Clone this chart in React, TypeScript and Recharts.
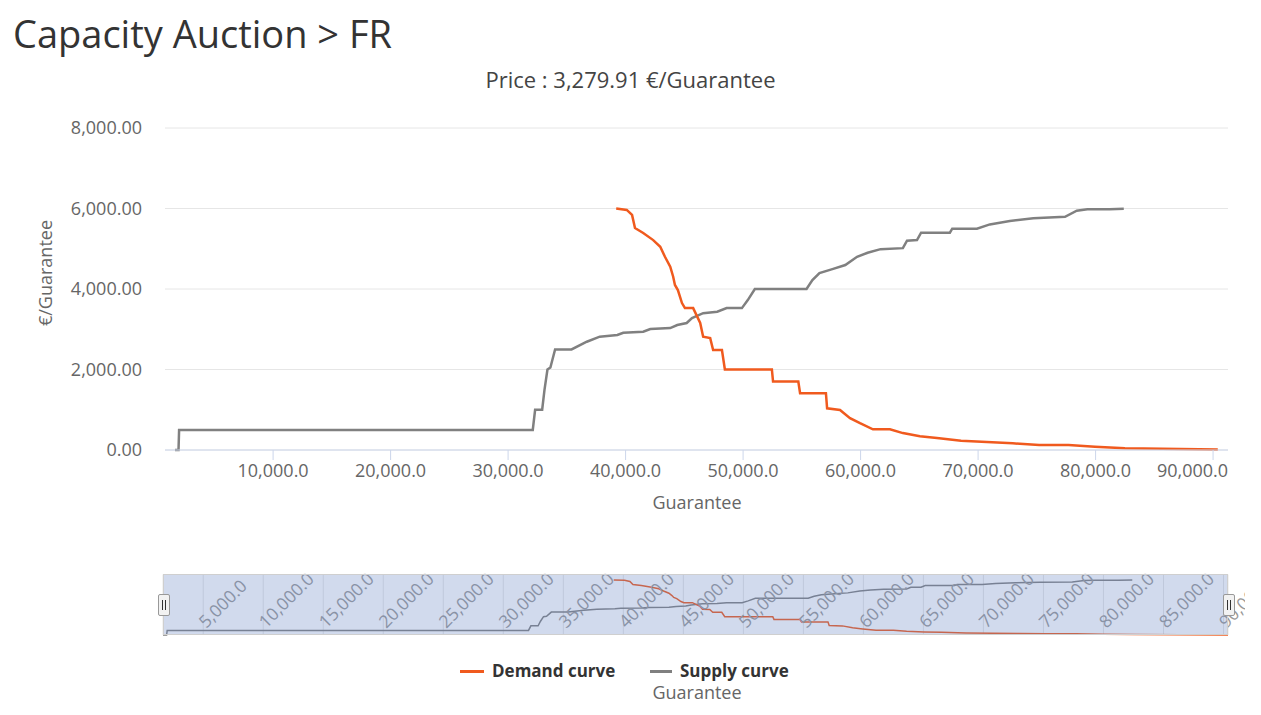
import { LineChart, Line, XAxis, YAxis, CartesianGrid } from 'recharts';

const FONT = "'Open Sans', sans-serif";

// supply curve (quantity in Guarantee, price in €/Guarantee)
const supplyQty = [1650, 1950, 2000, 32100, 32300, 32900, 33100, 33350, 33600, 34000, 35400, 36700, 37800, 39300, 39800, 41500, 42100, 43800, 44400, 45200, 45650, 46600, 47800, 48600, 49900, 50400, 51000, 55400, 55900, 56500, 57600, 58700, 59700, 60600, 61700, 63600, 63950, 64800, 65150, 67600, 67800, 69900, 71000, 72700, 74700, 77400, 78400, 79300, 81200, 82400];
const supplyPrice = [0, 0, 500, 500, 1000, 1000, 1500, 2000, 2050, 2500, 2500, 2690, 2815, 2857, 2914, 2940, 3005, 3030, 3105, 3155, 3280, 3400, 3435, 3525, 3525, 3725, 4000, 4000, 4220, 4395, 4495, 4595, 4800, 4900, 4990, 5015, 5200, 5215, 5400, 5400, 5500, 5500, 5605, 5690, 5755, 5795, 5945, 5980, 5980, 5995];

// demand curve
const demandQty = [39200, 40100, 40550, 40800, 41500, 42350, 42950, 43350, 43800, 44050, 44200, 44450, 44800, 45050, 45750, 46350, 46600, 47200, 47450, 48200, 48450, 52450, 52550, 54700, 54850, 57050, 57150, 58250, 59100, 59950, 61050, 62500, 63600, 65050, 66500, 68550, 72950, 75200, 77700, 79950, 82500, 90400];
const demandPrice = [6000, 5965, 5840, 5515, 5390, 5215, 5050, 4800, 4555, 4305, 4100, 3975, 3650, 3525, 3525, 3155, 2815, 2780, 2485, 2485, 2000, 2000, 1700, 1700, 1410, 1410, 1035, 995, 790, 665, 515, 515, 420, 340, 300, 230, 166, 124, 124, 83, 41, 10];

const xTicks = [10000, 20000, 30000, 40000, 50000, 60000, 70000, 80000, 90000];
const yTicks = [0, 2000, 4000, 6000, 8000];
const navTicks = [5000, 10000, 15000, 20000, 25000, 30000, 35000, 40000, 45000, 50000, 55000, 60000, 65000, 70000, 75000, 80000, 85000, 90000];

const price = 3279.91;

const supply = supplyQty.map((q, i) => ({ q, p: supplyPrice[i] }));
const demand = demandQty.map((q, i) => ({ q, p: demandPrice[i] }));

const fmt1 = (v: number) => v.toLocaleString('en-US', { minimumFractionDigits: 1, maximumFractionDigits: 1 });
const fmt2 = (v: number) => v.toLocaleString('en-US', { minimumFractionDigits: 2, maximumFractionDigits: 2 });

const DEMAND = '#f05a1e';
const SUPPLY = '#808080';

function MainXTick(props: any) {
  const { x, y, payload } = props;
  const last = payload.value === xTicks[xTicks.length - 1];
  return (
    <text x={last ? x + 15 : x} y={y} dy="0.71em" textAnchor={last ? 'end' : 'middle'} fill="#666" fontSize={18} fontFamily={FONT}>
      {fmt1(payload.value)}
    </text>
  );
}

function NavTick(props: any) {
  const { x, y, payload } = props;
  const tx = x + 3;
  const ty = y - 6;
  return (
    <text x={tx} y={ty} transform={`rotate(-45 ${tx} ${ty})`} textAnchor="start" fill="#999" fontSize={17.5} fontFamily={FONT}>
      {fmt1(payload.value)}
    </text>
  );
}

function Handle({ left }: { left: number }) {
  return (
    <div style={{ position: 'absolute', left, top: 594, width: 12, height: 22, boxSizing: 'border-box', background: '#f2f2f2', border: '1px solid #999', borderRadius: 2 }}>
      <div style={{ position: 'absolute', left: 3, top: 5, width: 1, height: 10, background: '#333' }} />
      <div style={{ position: 'absolute', left: 6, top: 5, width: 1, height: 10, background: '#333' }} />
    </div>
  );
}

export default function App() {
  return (
    <div style={{ position: 'absolute', left: 0, top: 0, width: 1261, height: 715, background: '#fff', fontFamily: FONT, overflow: 'hidden' }}>
      <div style={{ position: 'absolute', left: 13, top: 14, fontSize: 38, lineHeight: '38px', color: '#333', whiteSpace: 'nowrap' }}>
        Capacity Auction &gt; FR
      </div>
      <div style={{ position: 'absolute', left: 0, width: 1261, top: 66, textAlign: 'center', fontSize: 22, lineHeight: '26px', color: '#444' }}>
        Price : {fmt2(price)} €/Guarantee
      </div>

      <div style={{ position: 'absolute', left: 0, top: 0 }}>
        <LineChart width={1261} height={530} margin={{ top: 128, right: 33, bottom: 20, left: 0 }}>
          <CartesianGrid vertical={false} stroke="#e6e6e6" />
          <XAxis
            type="number"
            dataKey="q"
            domain={[800, 91270]}
            ticks={xTicks}
            allowDataOverflow
            tick={<MainXTick />}
            tickSize={10}
            tickMargin={4}
            stroke="#ccd6eb"
            height={60}
          />
          <YAxis
            type="number"
            domain={[0, 8000]}
            ticks={yTicks}
            width={165}
            tickSize={0}
            tickMargin={23}
            axisLine={false}
            tickFormatter={fmt2}
            tick={{ fill: '#666', fontSize: 18, fontFamily: FONT }}
          />
          <Line data={supply} dataKey="p" type="linear" stroke={SUPPLY} strokeWidth={2.5} dot={false} isAnimationActive={false} />
          <Line data={demand} dataKey="p" type="linear" stroke={DEMAND} strokeWidth={2.5} dot={false} isAnimationActive={false} />
        </LineChart>
      </div>

      <div style={{ position: 'absolute', left: 45, top: 273, transform: 'translate(-50%, -50%) rotate(-90deg)', fontSize: 18, color: '#666', whiteSpace: 'nowrap' }}>
        €/Guarantee
      </div>
      <div style={{ position: 'absolute', left: 697, top: 502, transform: 'translate(-50%, -50%)', fontSize: 18, color: '#666', whiteSpace: 'nowrap' }}>
        Guarantee
      </div>

      {/* navigator */}
      <div style={{ position: 'absolute', left: 0, top: 560, width: 1245, height: 90, overflow: 'hidden' }}>
        <LineChart width={1245} height={90} margin={{ top: 14.5, right: 17, bottom: 0, left: 163 }}>
          <CartesianGrid horizontal={false} stroke="#e6e6e6" />
          <XAxis
            type="number"
            dataKey="q"
            domain={[1650, 90375]}
            ticks={navTicks}
            allowDataOverflow
            axisLine={false}
            tickLine={false}
            tickSize={0}
            tickMargin={0}
            height={15}
            interval={0}
            tick={<NavTick />}
          />
          <YAxis hide type="number" domain={[0, 6600]} />
          <Line data={supply} dataKey="p" type="linear" stroke={SUPPLY} strokeWidth={1.5} dot={false} isAnimationActive={false} />
          <Line data={demand} dataKey="p" type="linear" stroke={DEMAND} strokeWidth={1.5} dot={false} isAnimationActive={false} />
        </LineChart>
      </div>
      <div style={{ position: 'absolute', left: 163, top: 574, width: 1065, height: 61, boxSizing: 'border-box', background: 'rgba(102,133,194,0.3)', border: '1px solid #cfcfcf' }} />
      <Handle left={158} />
      <Handle left={1223} />

      {/* legend */}
      <div style={{ position: 'absolute', left: 460, top: 670, width: 24, height: 3, background: DEMAND }} />
      <div style={{ position: 'absolute', left: 492, top: 660, fontSize: 17, lineHeight: '22px', fontWeight: 700, color: '#333', whiteSpace: 'nowrap' }}>
        Demand curve
      </div>
      <div style={{ position: 'absolute', left: 650, top: 670, width: 22, height: 3, background: SUPPLY }} />
      <div style={{ position: 'absolute', left: 680, top: 660, fontSize: 17, lineHeight: '22px', fontWeight: 700, color: '#333', whiteSpace: 'nowrap' }}>
        Supply curve
      </div>
      <div style={{ position: 'absolute', left: 697, top: 692, transform: 'translate(-50%, -50%)', fontSize: 18, color: '#666', whiteSpace: 'nowrap' }}>
        Guarantee
      </div>
    </div>
  );
}
